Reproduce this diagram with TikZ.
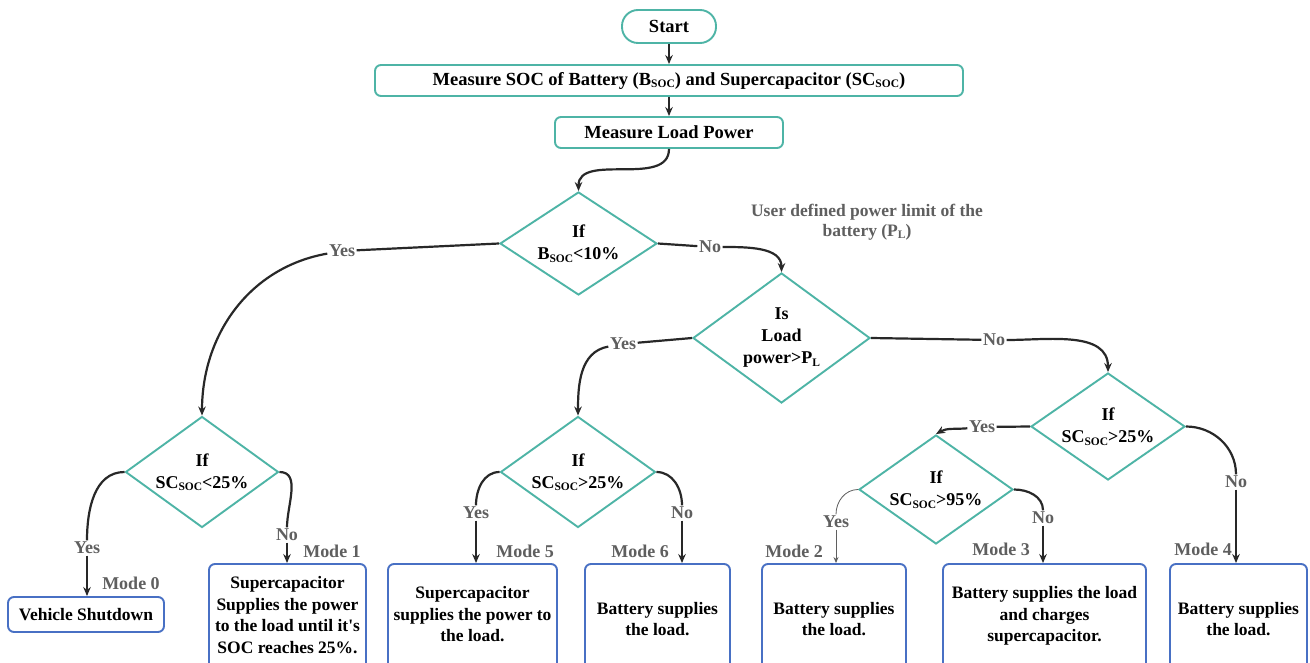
\documentclass[tikz,border=0pt]{standalone}
\usepackage{fontspec}
\setmainfont{Liberation Serif}
\usetikzlibrary{shapes.geometric,arrows.meta}
\definecolor{tealc}{RGB}{78,180,166}
\definecolor{bluec}{RGB}{72,112,196}
\definecolor{lblc}{RGB}{95,95,95}
\definecolor{linec}{RGB}{40,40,40}
\newcommand{\subsc}[1]{\raisebox{-0.3ex}{\fontsize{11.5}{11.5}\selectfont #1}}
\begin{document}
\begin{tikzpicture}[x=1pt,y=1pt,
  tbox/.style={draw=tealc, line width=1.9pt, rounded corners=6pt, inner sep=0pt, font=\bfseries\fontsize{18.5}{20}\selectfont},
  dec/.style={diamond, draw=tealc, line width=1.9pt, inner sep=-5pt, align=center, font=\bfseries\fontsize{18}{22}\selectfont},
  bbox/.style={draw=bluec, line width=1.9pt, rounded corners=6pt, inner sep=0pt, align=center, font=\bfseries\fontsize{17.5}{21.7}\selectfont},
  lbl/.style={text=lblc, fill=white, inner sep=1.5pt, font=\bfseries\fontsize{18}{18}\selectfont},
  mode/.style={text=lblc, inner sep=0pt, font=\bfseries\fontsize{18}{18}\selectfont},
  conn/.style={draw=linec, line width=2.2pt},
  arr/.style={conn, -{Stealth[length=9pt,width=7.5pt]}},
  thinconn/.style={draw=lblc, line width=0.8pt},
  thinarr/.style={thinconn, -{Stealth[length=6pt,width=5pt]}},
]
\fill[white] (0,0) rectangle (1310,-663);
\useasboundingbox (0,0) rectangle (1310,-663);

% top
\node[tbox, minimum width=94, minimum height=33, rounded corners=16pt] (start) at (669,-26.5) {Start};
\node[tbox, minimum width=588, minimum height=31] (soc) at (669,-80.5) {Measure SOC of Battery (B\subsc{SOC}) and Supercapacitor (SC\subsc{SOC})};
\node[tbox, minimum width=228, minimum height=31] (load) at (669,-132.5) {Measure Load Power};

% decisions
\node[dec, minimum width=157, minimum height=103, aspect=1.52] (d1) at (578.5,-243.5) {If\\B\subsc{SOC}<10\%};
\node[dec, minimum width=177, minimum height=130, aspect=1.36] (d2) at (781.5,-338) {Is\\Load\\power>P\subsc{L}};
\node[dec, minimum width=154, minimum height=107, aspect=1.44] (d3) at (1108,-426.5) {If\\SC\subsc{SOC}>25\%};
\node[dec, minimum width=154, minimum height=109, aspect=1.41] (d4) at (936,-489.5) {If\\SC\subsc{SOC}>95\%};
\node[dec, minimum width=153, minimum height=111, aspect=1.38] (d5) at (202,-472) {If\\SC\subsc{SOC}<25\%};
\node[dec, minimum width=155, minimum height=111, aspect=1.40] (d6) at (578,-472) {If\\SC\subsc{SOC}>25\%};

% note
\node[text=lblc, align=center, font=\bfseries\fontsize{17.5}{20.5}\selectfont] (note) at (867,-222) {User defined power limit of the\\battery (P\subsc{L})};

% outcome boxes (run past the lower edge)
\node[bbox, minimum width=156, minimum height=35] (vs) at (86,-614.5) {Vehicle Shutdown};
\node[bbox, minimum width=157, minimum height=110, text depth=8pt] (m1) at (287.5,-619) {Supercapacitor\\Supplies the power\\to the load until it\textquotesingle s\\SOC reaches 25\%.};
\node[bbox, minimum width=169, minimum height=110] (m5) at (472.5,-619) {Supercapacitor\\supplies the power to\\the load.\\[-12pt]};
\node[bbox, minimum width=145, minimum height=110] (m6) at (657.5,-619) {Battery supplies\\the load.};
\node[bbox, minimum width=144, minimum height=110] (m2) at (834,-619) {Battery supplies\\the load.};
\node[bbox, minimum width=203, minimum height=110] (m3) at (1044.5,-619) {Battery supplies the load\\and charges\\supercapacitor.\\[-12pt]};
\node[bbox, minimum width=137, minimum height=110] (m4) at (1238.5,-619) {Battery supplies\\the load.};

% mode labels
\node[mode] (mode0) at (131,-583) {Mode 0};
\node[mode] (mode1) at (332,-551) {Mode 1};
\node[mode] (mode5) at (525,-551) {Mode 5};
\node[mode] (mode6) at (640,-551) {Mode 6};
\node[mode] (mode2) at (794,-551) {Mode 2};
\node[mode] (mode3) at (1001,-549) {Mode 3};
\node[mode] (mode4) at (1203,-549) {Mode 4};

% connector labels
\node[lbl] (yes1) at (342,-251) {Yes};
\node[lbl] (no1) at (710,-247) {No};
\node[lbl] (yes2) at (623,-344) {Yes};
\node[lbl] (no2) at (994,-340) {No};
\node[lbl] (yes3) at (982,-427) {Yes};
\node[lbl] (yes4) at (87,-548) {Yes};
\node[lbl] (no3) at (287,-535) {No};
\node[lbl] (yes5) at (476,-513) {Yes};
\node[lbl] (no4) at (682,-513) {No};
\node[lbl] (yes6) at (836,-522) {Yes};
\node[lbl] (no5) at (1043,-518) {No};
\node[lbl] (no6) at (1236,-482) {No};

% connectors
\draw[arr] (start) -- (soc);
\draw[arr] (soc) -- (load);
\draw[arr] (load.south) to[out=-90,in=90] (d1.north);

\draw[conn] (d1.west) -- (yes1);
\draw[arr] (yes1) to[out=190,in=90] (d5.north);
\draw[conn] (d1.east) -- (no1);
\draw[arr] (no1) to[out=0,in=90] (d2.north);

\draw[conn] (d2.west) -- (yes2);
\draw[arr] (yes2) to[out=190,in=90] (d6.north);
\draw[conn] (d2.east) -- (no2);
\draw[arr] (no2) to[out=0,in=90] (d3.north);

\draw[conn] (d3.west) -- (yes3);
\draw[arr] (yes3) to[out=185,in=30] (d4.north);
\draw[conn] (d3.east) to[out=0,in=90] (no6);
\draw[arr] (no6) -- (no6 |- m4.north);

\draw[conn] (d5.west) to[out=180,in=90] (yes4);
\draw[arr] (yes4) -- (yes4 |- vs.north);
\draw[conn] (d5.east) to[out=0,in=90] (no3);
\draw[arr] (no3) -- (no3 |- m1.north);

\draw[conn] (d6.west) to[out=180,in=90] (yes5);
\draw[arr] (yes5) -- (yes5 |- m5.north);
\draw[conn] (d6.east) to[out=0,in=90] (no4);
\draw[arr] (no4) -- (no4 |- m6.north);

\draw[thinconn] (d4.west) to[out=180,in=90] (yes6);
\draw[thinarr] (yes6) -- (yes6 |- m2.north);
\draw[conn] (d4.east) to[out=0,in=90] (no5);
\draw[arr] (no5) -- (no5 |- m3.north);
\end{tikzpicture}
\end{document}
